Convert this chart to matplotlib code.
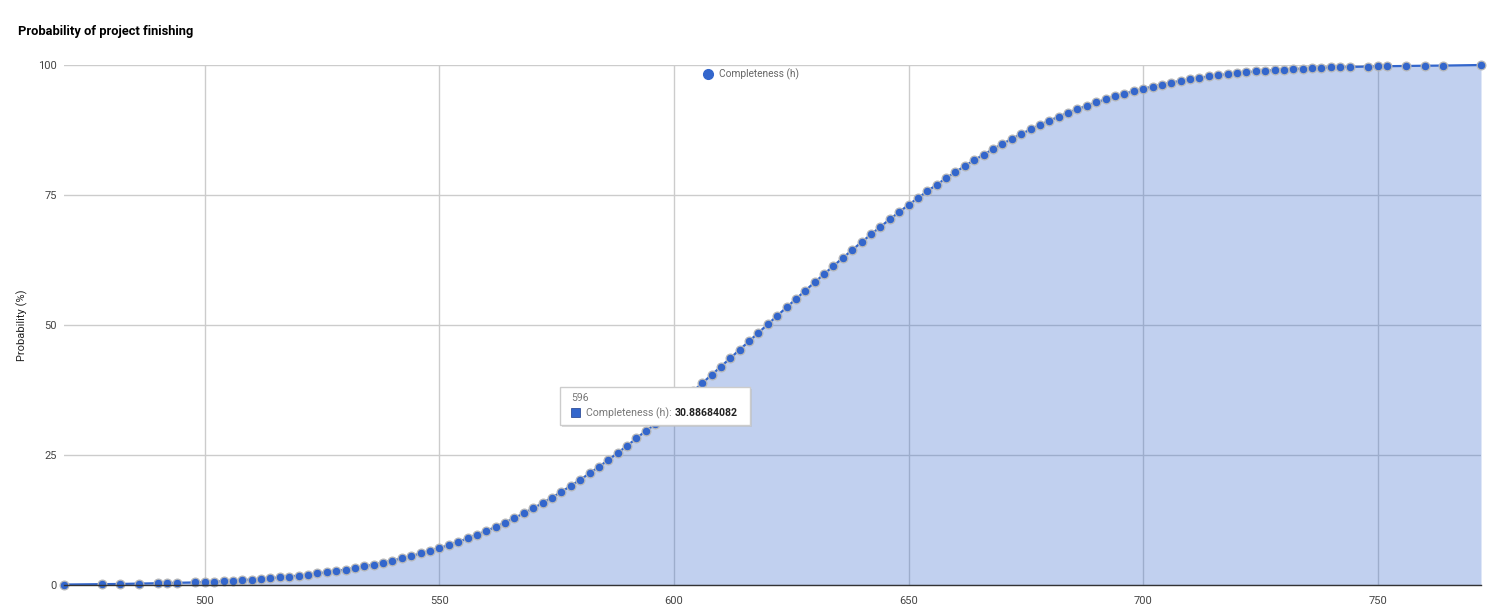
import matplotlib
matplotlib.use("Agg")
import matplotlib.pyplot as plt
from matplotlib.patches import Rectangle

plt.rcParams['font.family'] = ['Roboto', 'DejaVu Sans']

# ---- data ----
hours = [470, 478, 482, 486, 490, 492, 494,
         498, 500, 502, 504, 506, 508, 510, 512, 514, 516, 518, 520,
         522, 524, 526, 528, 530, 532, 534, 536, 538, 540,
         542, 544, 546, 548, 550, 552, 554, 556, 558, 560,
         562, 564, 566, 568, 570, 572, 574, 576, 578, 580,
         582, 584, 586, 588, 590, 592, 594, 596, 598, 600,
         602, 604, 606, 608, 610, 612, 614, 616, 618, 620,
         622, 624, 626, 628, 630, 632, 634, 636, 638, 640,
         642, 644, 646, 648, 650, 652, 654, 656, 658, 660,
         662, 664, 666, 668, 670, 672, 674, 676, 678, 680,
         682, 684, 686, 688, 690, 692, 694, 696, 698, 700,
         702, 704, 706, 708, 710, 712, 714, 716, 718, 720,
         722, 724, 726, 728, 730, 732, 734, 736, 738, 740,
         742, 744, 748, 750, 752, 756, 760, 764, 772]
probability = [0.09, 0.16, 0.20, 0.26, 0.34, 0.38, 0.43,
               0.50, 0.57, 0.65, 0.73, 0.83, 0.93, 1.05, 1.17, 1.31, 1.46, 1.63, 1.81,
               2.01, 2.22, 2.45, 2.70, 2.97, 3.27, 3.59, 3.93, 4.30, 4.70,
               5.12, 5.58, 6.06, 6.57, 7.10, 7.68, 8.30, 8.96, 9.66, 10.40,
               11.19, 12.01, 12.88, 13.80, 14.76, 15.77, 16.82, 17.92, 19.06, 20.24,
               21.47, 22.73, 24.04, 25.39, 26.78, 28.20, 29.66, 30.88684082, 32.60, 34.12,
               35.66, 37.22, 38.80, 40.39, 42.00, 43.62, 45.25, 46.88, 48.52, 50.15,
               51.78, 53.40, 55.02, 56.63, 58.23, 59.81, 61.37, 62.92, 64.45, 65.96,
               67.44, 68.90, 70.33, 71.73, 73.10, 74.43, 75.73, 77.00, 78.23, 79.42,
               80.58, 81.70, 82.78, 83.82, 84.83, 85.80, 86.73, 87.62, 88.47, 89.29,
               90.07, 90.81, 91.51, 92.18, 92.81, 93.40, 93.96, 94.48, 94.97, 95.43,
               95.86, 96.25, 96.62, 96.96, 97.27, 97.55, 97.81, 98.04, 98.25, 98.44,
               98.61, 98.76, 98.90, 99.02, 99.13, 99.23, 99.32, 99.40, 99.47, 99.53,
               99.58, 99.63, 99.71, 99.74, 99.77, 99.82, 99.86, 99.89, 100.0]
x_ticks = [500, 550, 600, 650, 700, 750]
y_ticks = [0, 25, 50, 75, 100]
series_name = "Completeness (h)"
tooltip_x = "596"
tooltip_val = "30.88684082"

W, H = 1500, 609
fig = plt.figure(figsize=(15, 6.09), dpi=100)
def fx(px): return px / W
def fy(py): return 1 - py / H

ax = fig.add_axes([fx(64), fy(585), fx(1481) - fx(64), fy(65) - fy(585)])
blue = '#3366cc'

ax.set_xlim(470, 772)
ax.set_ylim(0, 100)
ax.set_xticks(x_ticks)
ax.set_yticks(y_ticks)
ax.grid(True, color='#cccccc', linewidth=1, zorder=0)
ax.set_axisbelow(True)
for s in ['top', 'right', 'left']:
    ax.spines[s].set_visible(False)
ax.spines['bottom'].set_color('#333333')
ax.spines['bottom'].set_linewidth(1)
ax.spines['bottom'].set_zorder(5)
ax.tick_params(length=0, labelsize=8, colors='#444444')
ax.tick_params(axis='y', pad=5)
ax.tick_params(axis='x', pad=8)

ax.fill_between(hours, probability, 0, color=blue, alpha=0.3, linewidth=0, zorder=2)
ax.plot(hours, probability, color=blue, linewidth=1.6, zorder=3,
        marker='o', markersize=6.3, markerfacecolor=blue,
        markeredgecolor='#b8b8b8', markeredgewidth=0.9, clip_on=False)

fig.text(fx(22), fy(325), "Probability (%)", rotation=90, fontsize=8,
         color='#222222', ha='center', va='center')

fig.text(fx(18), fy(31), "Probability of project finishing", fontsize=9.3,
         fontweight='bold', color='#000000', ha='left', va='center')

# legend
fig.add_artist(plt.Line2D([fx(708)], [fy(74)], marker='o', markersize=7,
                          color=blue, linestyle='none'))
fig.text(fx(719), fy(74), series_name, fontsize=7.3, color='#666666',
         ha='left', va='center')

# tooltip
shadow = Rectangle((fx(562), fy(427)), fx(750) - fx(560), fy(387) - fy(425),
                   transform=fig.transFigure, facecolor='#bbbbbb', edgecolor='none',
                   alpha=0.5, zorder=9)
fig.add_artist(shadow)
box = Rectangle((fx(560), fy(425)), fx(750) - fx(560), fy(387) - fy(425),
                transform=fig.transFigure, facecolor='white', edgecolor='#cccccc',
                linewidth=1, zorder=10)
fig.add_artist(box)
fig.text(fx(571), fy(398), tooltip_x, fontsize=7.6, color='#777777',
         ha='left', va='center', zorder=11)
sq = Rectangle((fx(571), fy(417)), fx(580) - fx(571), fy(408) - fy(417),
               transform=fig.transFigure, facecolor=blue, edgecolor='#1a3a8a',
               linewidth=0.5, zorder=11)
fig.add_artist(sq)
lbl = fig.text(fx(586), fy(413), series_name + ": ", fontsize=7.6, color='#777777',
               ha='left', va='center', zorder=11)
fig.canvas.draw()
bb = lbl.get_window_extent(renderer=fig.canvas.get_renderer())
fig.text(bb.x1 / W, fy(413), tooltip_val, fontsize=7.6, color='#222222',
         fontweight='bold', ha='left', va='center', zorder=11)

fig.savefig("out.png", dpi=100, facecolor='white')
